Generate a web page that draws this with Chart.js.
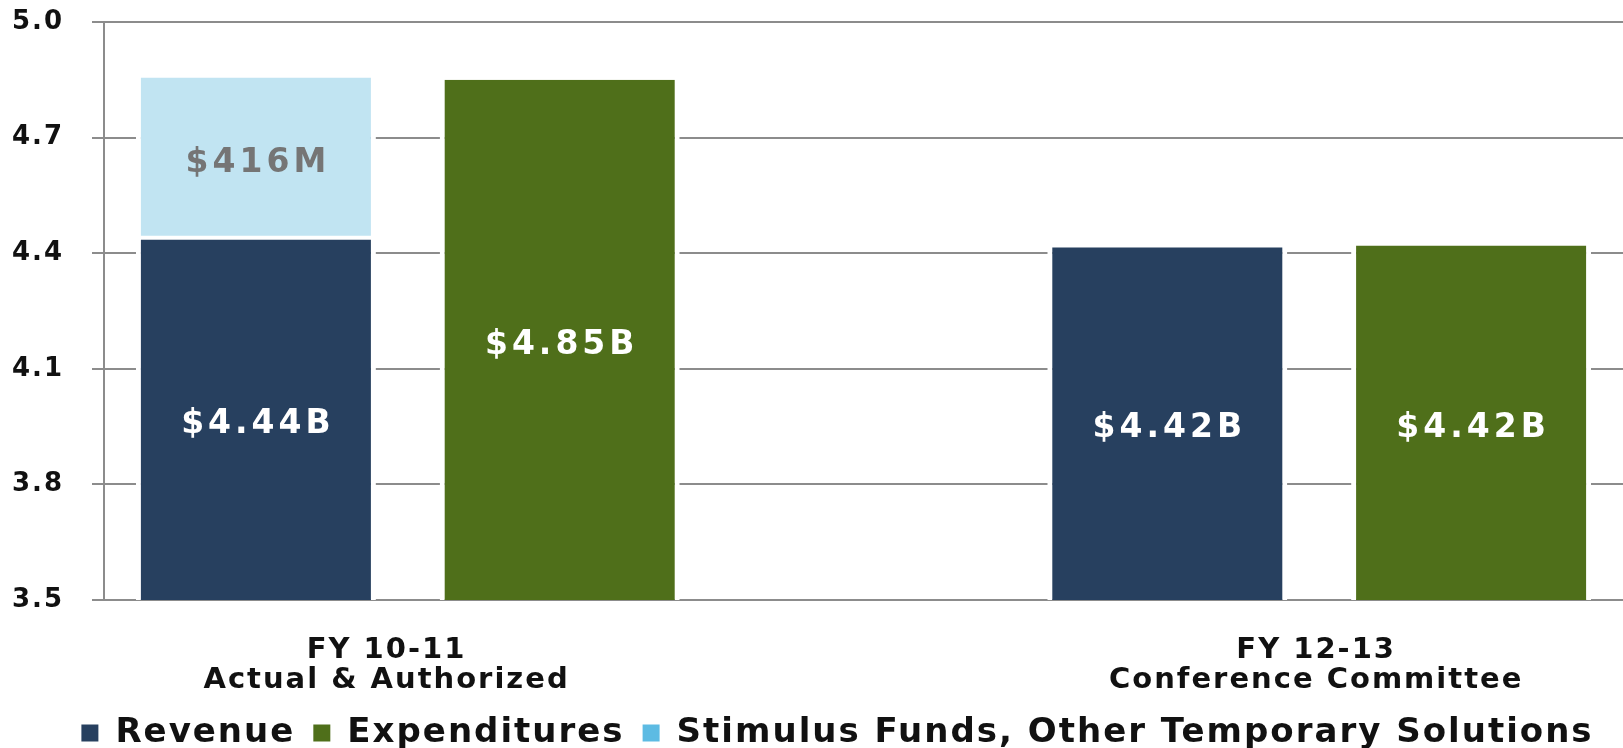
<!DOCTYPE html>
<html>
<head>
<meta charset="utf-8">
<script src="https://cdn.jsdelivr.net/npm/chart.js@4.4.0/dist/chart.umd.min.js"></script>
<style>
  html, body { margin: 0; padding: 0; background: #fff; }
  #wrap { width: 1623px; height: 748px; }
</style>
</head>
<body>
<div id="wrap"><canvas id="budgetChart"></canvas></div>
<script>
// five slots on the x axis: revenue / expenditures per year, empty slot between years
const slots = ["rev 10-11", "exp 10-11", "", "rev 12-13", "exp 12-13"];
const revenue = [4.44, null, null, 4.42, null];
const expenditures = [null, 4.85, null, null, 4.42];
const stimulus = [0.416, null, null, null, null];
const yearLabels = [["FY 10-11", "Actual & Authorized"], ["FY 12-13", "Conference Committee"]];
const yTicks = [3.5, 3.8, 4.1, 4.4, 4.7, 5.0];

const family = "'DejaVu Sans', sans-serif";
const color = {
  revenue: "#27405F",
  expenditures: "#4F6F1A",
  stimulus: "#C1E4F2",
  stimulusKey: "#5DBBE3",
  grid: "#8C8C8C"
};

// the original font is wide, so space the letters out a little
const spacing = {
  id: "spacing",
  beforeUpdate(chart) { chart.ctx.letterSpacing = "2px"; },
  afterLayout(chart) {
    // legend sits a bit right of centre in the original
    chart.legend.left += 26;
    chart.legend.right += 26;
  },
  beforeDraw(chart) { chart.ctx.letterSpacing = "2px"; }
};

// value text in the middle of the visible part of each bar
const barLabels = {
  id: "barLabels",
  afterDatasetsDraw(chart) {
    const { ctx, chartArea } = chart;
    ctx.save();
    ctx.textAlign = "center";
    ctx.textBaseline = "middle";
    ctx.font = "bold 33px " + family;
    ctx.letterSpacing = "4px";
    chart.data.datasets.forEach((ds, i) => {
      chart.getDatasetMeta(i).data.forEach((bar, j) => {
        const v = ds.data[j];
        if (v == null) return;
        const top = Math.max(bar.y, chartArea.top);
        const bottom = Math.min(bar.base, chartArea.bottom);
        ctx.fillStyle = ds.labelColor;
        ctx.fillText(ds.format(v), bar.x + 2, (top + bottom) / 2 + 6);
      });
    });
    ctx.restore();
  }
};

const billions = v => "$" + v.toFixed(2) + "B";
const millions = v => "$" + Math.round(v * 1000) + "M";

new Chart(document.getElementById("budgetChart"), {
  type: "bar",
  data: {
    labels: slots,
    datasets: [
      {
        label: "Revenue", data: revenue, backgroundColor: color.revenue,
        borderWidth: { top: 2, left: 5, right: 5, bottom: 0 },
        labelColor: "#fff", format: billions
      },
      {
        label: "Expenditures", data: expenditures, backgroundColor: color.expenditures,
        borderWidth: { top: 0, left: 5, right: 5, bottom: 0 },
        labelColor: "#fff", format: billions
      },
      {
        label: "Stimulus Funds, Other Temporary Solutions", data: stimulus, backgroundColor: color.stimulus,
        borderWidth: { top: 0, left: 5, right: 5, bottom: 2 }, borderSkipped: false,
        labelColor: "#757575", format: millions
      }
    ]
  },
  options: {
    responsive: true,
    maintainAspectRatio: false,
    animation: false,
    layout: { padding: { top: 22, right: 0, left: 0, bottom: -12 } },
    datasets: {
      bar: {
        barPercentage: 0.79,
        categoryPercentage: 1,
        borderColor: "#fff",
        borderSkipped: "start"
      }
    },
    scales: {
      x: { stacked: true, display: false },
      years: {
        type: "linear",
        axis: "x",
        position: "bottom",
        offset: false,
        min: 0,
        max: 5,
        grid: { display: false, drawTicks: false },
        border: { display: false },
        afterBuildTicks(s) { s.ticks = [{ value: 0.93 }, { value: 3.99 }]; },
        afterFit(s) { s.height = 98; },
        ticks: {
          callback: (v, i) => yearLabels[i],
          font: { family, size: 29, weight: "bold", lineHeight: 1.03 },
          color: "#111",
          padding: 36,
          maxRotation: 0,
          autoSkip: false
        }
      },
      y: {
        stacked: true,
        min: 3.5,
        max: 5.0,
        afterBuildTicks(s) { s.ticks = yTicks.map(v => ({ value: v })); },
        afterFit(s) { s.width = 104; s.paddingTop = 0; s.paddingBottom = 0; },
        grid: { color: color.grid, lineWidth: 2, tickLength: 12 },
        border: { color: color.grid, width: 2 },
        ticks: {
          callback: v => v.toFixed(1),
          font: { family, size: 26, weight: "bold" },
          color: "#111",
          padding: 28
        }
      }
    },
    plugins: {
      tooltip: { enabled: false },
      legend: {
        position: "bottom",
        labels: {
          boxWidth: 17,
          boxHeight: 17,
          padding: 18,
          color: "#111",
          font: { family, size: 34, weight: "bold" },
          generateLabels(chart) {
            const items = Chart.defaults.plugins.legend.labels.generateLabels(chart);
            items.forEach(it => {
              it.lineWidth = 0;
              if (it.datasetIndex === 2) it.fillStyle = color.stimulusKey;
            });
            return items;
          }
        }
      }
    }
  },
  plugins: [spacing, barLabels]
});
</script>
</body>
</html>
